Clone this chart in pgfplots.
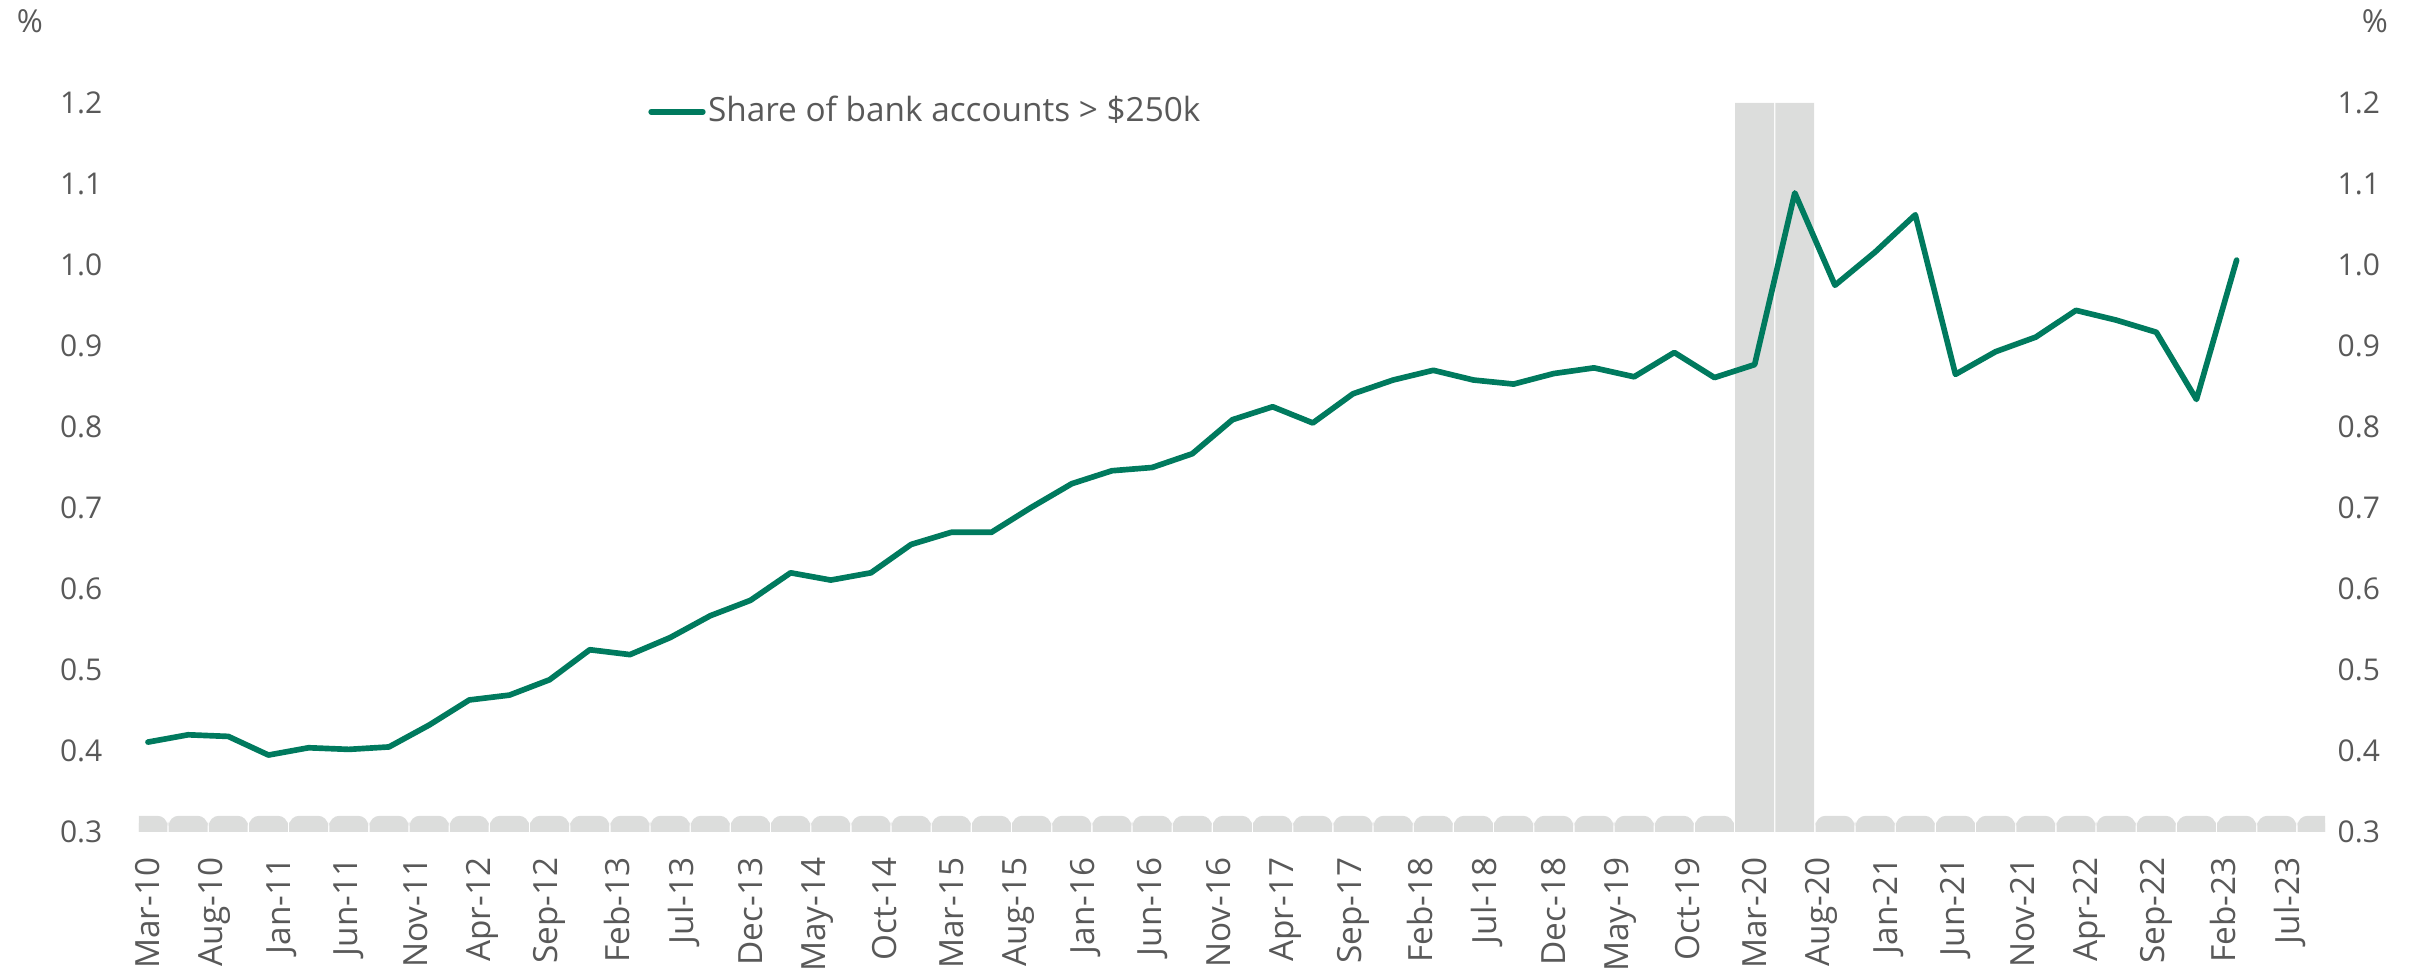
\documentclass[border=0pt]{standalone}
\usepackage{fontspec}
\setmainfont{Open Sans}
\usepackage{pgfplots}
\pgfplotsset{compat=1.18}
\definecolor{lineg}{RGB}{0,122,94}
\definecolor{barg}{RGB}{220,221,220}
\definecolor{txt}{RGB}{89,89,89}
\begin{document}
\begin{tikzpicture}[font=\fontsize{10}{12}\selectfont]
\path[use as bounding box] (-41.7pt,-42pt) rectangle (687.3pt,249.6pt);
\begin{axis}[
  at={(0pt,0pt)}, anchor=south west,
  scale only axis, width=655.8pt, height=218.7pt,
  xmin=-0.67, xmax=162.6, ymin=0.3, ymax=1.2,
  axis line style={draw=none}, tick style={draw=none},
  xtick={0,5,...,160},
  xticklabels={Mar-10,Aug-10,Jan-11,Jun-11,Nov-11,Apr-12,Sep-12,Feb-13,Jul-13,Dec-13,May-14,Oct-14,Mar-15,Aug-15,Jan-16,Jun-16,Nov-16,Apr-17,Sep-17,Feb-18,Jul-18,Dec-18,May-19,Oct-19,Mar-20,Aug-20,Jan-21,Jun-21,Nov-21,Apr-22,Sep-22,Feb-23,Jul-23},
  xticklabel style={rotate=90, anchor=east, inner sep=0pt, text=txt, font=\fontsize{10}{12}\selectfont},
  xticklabel shift=7.5pt,
  ytick={0.3,0.4,0.5,0.6,0.7,0.8,0.9,1.0,1.1,1.2},
  yticklabels={0.3,0.4,0.5,0.6,0.7,0.8,0.9,1.0,1.1,1.2},
  yticklabel style={anchor=east, inner sep=0pt, text=txt, font=\fontsize{9}{11}\selectfont},
  yticklabel shift=10.8pt,
  legend style={at={(0.233,0.988)}, anchor=west, draw=none, fill=none, inner sep=0pt, outer sep=0pt, text=txt, font=\fontsize{10}{12}\selectfont, nodes={inner sep=0.7pt}},
  legend image code/.code={\draw[#1] (0pt,0pt) -- (15.5pt,0pt);},
]
% rounded-top quarterly background bars
\addplot[ybar, bar width=2.9, bar shift=0pt, fill=barg, draw=none, rounded corners=3pt, forget plot] coordinates {
(0,0.32) (3,0.32) (6,0.32) (9,0.32) (12,0.32) (15,0.32) (18,0.32) (21,0.32) (24,0.32) (27,0.32)
(30,0.32) (33,0.32) (36,0.32) (39,0.32) (42,0.32) (45,0.32) (48,0.32) (51,0.32) (54,0.32) (57,0.32)
(60,0.32) (63,0.32) (66,0.32) (69,0.32) (72,0.32) (75,0.32) (78,0.32) (81,0.32) (84,0.32) (87,0.32)
(90,0.32) (93,0.32) (96,0.32) (99,0.32) (102,0.32) (105,0.32) (108,0.32) (111,0.32) (114,0.32) (117,0.32)
(126,0.32) (129,0.32) (132,0.32) (135,0.32) (138,0.32) (141,0.32) (144,0.32) (147,0.32) (150,0.32)
(153,0.32) (156,0.32) (159,0.32) (162,0.32)
};
% square lower part of the same bars
\addplot[ybar, bar width=2.9, bar shift=0pt, fill=barg, draw=none, forget plot] coordinates {
(0,0.311) (3,0.311) (6,0.311) (9,0.311) (12,0.311) (15,0.311) (18,0.311) (21,0.311) (24,0.311) (27,0.311)
(30,0.311) (33,0.311) (36,0.311) (39,0.311) (42,0.311) (45,0.311) (48,0.311) (51,0.311) (54,0.311) (57,0.311)
(60,0.311) (63,0.311) (66,0.311) (69,0.311) (72,0.311) (75,0.311) (78,0.311) (81,0.311) (84,0.311) (87,0.311)
(90,0.311) (93,0.311) (96,0.311) (99,0.311) (102,0.311) (105,0.311) (108,0.311) (111,0.311) (114,0.311) (117,0.311)
(126,0.311) (129,0.311) (132,0.311) (135,0.311) (138,0.311) (141,0.311) (144,0.311) (147,0.311) (150,0.311)
(153,0.311) (156,0.311) (159,0.311) (162,0.311)
};
\addplot[ybar, bar width=2.9, bar shift=0pt, fill=barg, draw=none, forget plot] coordinates {
(120,1.2) (123,1.2)
};
\addplot[color=lineg, line width=1.7pt, line join=round, line cap=round, sharp plot] coordinates {
(0,0.411) (3,0.420) (6,0.418) (9,0.395) (12,0.404) (15,0.402) (18,0.405) (21,0.432)
(24,0.463) (27,0.469) (30,0.488) (33,0.525) (36,0.519) (39,0.540) (42,0.567) (45,0.586)
(48,0.620) (51,0.611) (54,0.620) (57,0.655) (60,0.670) (63,0.670) (66,0.701) (69,0.730)
(72,0.746) (75,0.750) (78,0.767) (81,0.809) (84,0.825) (87,0.805) (90,0.841) (93,0.858)
(96,0.870) (99,0.858) (102,0.853) (105,0.866) (108,0.873) (111,0.862) (114,0.892) (117,0.861)
(120,0.877) (123,1.089) (126,0.975) (129,1.016) (132,1.062) (135,0.865) (138,0.893) (141,0.911)
(144,0.944) (147,0.932) (150,0.917) (153,0.834) (156,1.006)
};
\addlegendentry{Share of bank accounts > \$250k}
\end{axis}
\begin{axis}[
  at={(0pt,0pt)}, anchor=south west,
  scale only axis, width=655.8pt, height=218.7pt,
  xmin=-0.67, xmax=162.6, ymin=0.3, ymax=1.2,
  hide x axis,
  axis line style={draw=none}, tick style={draw=none},
  yticklabel pos=right,
  ytick={0.3,0.4,0.5,0.6,0.7,0.8,0.9,1.0,1.1,1.2},
  yticklabels={0.3,0.4,0.5,0.6,0.7,0.8,0.9,1.0,1.1,1.2},
  yticklabel style={anchor=west, inner sep=0pt, text=txt, font=\fontsize{9}{11}\selectfont},
  yticklabel shift=3.6pt,
]
\addplot[draw=none, forget plot] coordinates {(0,0.5) (10,0.6)};
\end{axis}
\node[text=txt, font=\fontsize{9.5}{11}\selectfont, inner sep=0pt] at (-32.7pt,243.3pt) {\%};
\node[text=txt, font=\fontsize{9.5}{11}\selectfont, inner sep=0pt] at (670.8pt,243.3pt) {\%};
\end{tikzpicture}
\end{document}
